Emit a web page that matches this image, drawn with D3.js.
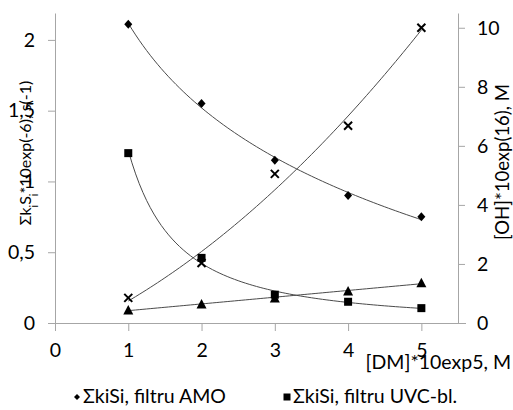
<!DOCTYPE html>
<meta charset="utf-8">
<script src="https://d3js.org/d3.v7.min.js"></script>
<style>
  body { margin: 0; background: #fff; }
  text { font-family: Lato, "Open Sans", sans-serif; fill: #000; }
</style>
<div id="vis"></div>
<script type="text/javascript">

// x values: [DM]*10exp5, M
var dm = [1, 2, 3, 4, 5];
// left axis: ΣkiSi*10exp(-6), s(-1)
var sumAMO = [2.11, 1.55, 1.15, 0.90, 0.75];
var sumUVC = [1.20, 0.46, 0.20, 0.15, 0.105];
// right axis: [OH]*10exp(16), M
var ohAMO = [0.85, 2.03, 5.05, 6.68, 10.0];
var ohUVC = [0.44, 0.64, 0.85, 1.08, 1.36];

var xTicks = [0, 1, 2, 3, 4, 5];
var leftTicks = [0, 0.5, 1, 1.5, 2];
var leftLabels = ["0", "0,5", "1", "1,5", "2"];
var rightTicks = [0, 2, 4, 6, 8, 10];

var width = 513, height = 410;
var plot = {left: 55, right: 458, top: 13, bottom: 323};

var svg = d3.select("#vis").append("svg")
    .attr("width", width)
    .attr("height", height);

var x = d3.scaleLinear().domain([0, 5.5]).range([plot.left, plot.right]);
var yL = d3.scaleLinear().domain([0, 2.19]).range([plot.bottom, plot.top]);
var yR = d3.scaleLinear().domain([0, 10.5]).range([plot.bottom, plot.top]);

var axisColor = "#a6a6a6";
var fs = "19.5px";

// axes
var gx = svg.append("g")
    .attr("transform", "translate(0," + plot.bottom + ")")
    .call(d3.axisBottom(x).tickValues(xTicks).tickFormat(d3.format("d"))
      .tickSize(8).tickPadding(12).tickSizeOuter(0));
gx.select(".domain").attr("d", "M" + (plot.left - 7) + ",0.5H" + (plot.right + 8));

var gl = svg.append("g")
    .attr("transform", "translate(" + plot.left + ",0)")
    .call(d3.axisLeft(yL).tickValues(leftTicks).tickFormat((d, i) => leftLabels[i])
      .tickSize(7).tickPadding(13).tickSizeOuter(0));

var gr = svg.append("g")
    .attr("transform", "translate(" + plot.right + ",0)")
    .call(d3.axisRight(yR).tickValues(rightTicks).tickSize(7).tickPadding(12).tickSizeOuter(0));

svg.selectAll(".domain").attr("stroke", axisColor);
svg.selectAll(".tick line").attr("stroke", axisColor);
svg.selectAll(".tick text").style("font-size", fs).attr("fill", "#000");

// trend line fits
function logFit(xs, ys) {
  var lx = xs.map(Math.log);
  var mx = d3.mean(lx), my = d3.mean(ys);
  var b = d3.sum(lx, (v, i) => (v - mx) * (ys[i] - my)) / d3.sum(lx, v => (v - mx) * (v - mx));
  var a = my - b * mx;
  return t => a + b * Math.log(t);
}
function powerFit(xs, ys) {
  var lx = xs.map(Math.log), ly = ys.map(Math.log);
  var mx = d3.mean(lx), my = d3.mean(ly);
  var b = d3.sum(lx, (v, i) => (v - mx) * (ly[i] - my)) / d3.sum(lx, v => (v - mx) * (v - mx));
  var a = Math.exp(my - b * mx);
  return t => a * Math.pow(t, b);
}
function linFit(xs, ys) {
  var mx = d3.mean(xs), my = d3.mean(ys);
  var b = d3.sum(xs, (v, i) => (v - mx) * (ys[i] - my)) / d3.sum(xs, v => (v - mx) * (v - mx));
  var a = my - b * mx;
  return t => a + b * t;
}
function quadFit(xs, ys) {
  // normal equations for y = c0 + c1 x + c2 x^2
  var s = [0, 0, 0, 0, 0], r = [0, 0, 0];
  xs.forEach((v, i) => {
    for (var k = 0; k < 5; k++) s[k] += Math.pow(v, k);
    for (var k = 0; k < 3; k++) r[k] += ys[i] * Math.pow(v, k);
  });
  var m = [[s[0], s[1], s[2], r[0]], [s[1], s[2], s[3], r[1]], [s[2], s[3], s[4], r[2]]];
  for (var c = 0; c < 3; c++) {
    for (var j = c + 1; j < 3; j++) {
      var f = m[j][c] / m[c][c];
      for (var k = c; k < 4; k++) m[j][k] -= f * m[c][k];
    }
  }
  var co = [0, 0, 0];
  for (var c = 2; c >= 0; c--) {
    var v = m[c][3];
    for (var k = c + 1; k < 3; k++) v -= m[c][k] * co[k];
    co[c] = v / m[c][c];
  }
  return t => co[0] + co[1] * t + co[2] * t * t;
}

var series = [
  {ys: sumAMO, y: yL, fit: logFit(dm, sumAMO), shape: "diamond"},
  {ys: sumUVC, y: yL, fit: powerFit(dm, sumUVC), shape: "square"},
  {ys: ohAMO, y: yR, fit: quadFit(dm, ohAMO), shape: "cross"},
  {ys: ohUVC, y: yR, fit: linFit(dm, ohUVC), shape: "triangle"}
];

var ts = d3.range(1, 5.0001, 0.05);
series.forEach(s => {
  svg.append("path")
    .datum(ts)
    .attr("fill", "none")
    .attr("stroke", "#4a4a4a")
    .attr("stroke-width", 1)
    .attr("d", d3.line().x(t => x(t)).y(t => s.y(s.fit(t))));
});

function marker(g, shape) {
  if (shape === "diamond") {
    g.append("path").attr("d", "M0,-4.5L4,0L0,4.5L-4,0Z").attr("fill", "#000");
  } else if (shape === "square") {
    g.append("rect").attr("x", -4).attr("y", -4).attr("width", 8).attr("height", 8).attr("fill", "#000");
  } else if (shape === "triangle") {
    g.append("path").attr("d", "M0,-5L5,4.5L-5,4.5Z").attr("fill", "#000");
  } else {
    g.append("path").attr("d", "M-4,-4L4,4M-4,4L4,-4").attr("stroke", "#000").attr("stroke-width", 2);
  }
}

series.forEach(s => {
  s.ys.forEach((v, i) => {
    var g = svg.append("g").attr("transform", "translate(" + x(dm[i]) + "," + s.y(v) + ")");
    marker(g, s.shape);
  });
});

// axis titles
var lt = svg.append("text")
    .attr("transform", "translate(31,153) rotate(-90)")
    .attr("text-anchor", "middle")
    .style("font-size", "16px");
lt.append("tspan").text("Σk");
lt.append("tspan").attr("baseline-shift", "sub").style("font-size", "11px").text("i");
lt.append("tspan").text("S");
lt.append("tspan").attr("baseline-shift", "sub").style("font-size", "11px").text("i");
lt.append("tspan").text("*10exp(-6), s(-1)");

svg.append("text")
    .attr("transform", "translate(509,162) rotate(-90)")
    .attr("text-anchor", "middle")
    .style("font-size", "18.5px")
    .text("[OH]*10exp(16), M");

svg.append("text")
    .attr("x", 511).attr("y", 369)
    .attr("text-anchor", "end")
    .style("font-size", fs)
    .text("[DM]*10exp5, M");

// legend
var legend = [
  {label: "ΣkiSi, filtru AMO", shape: "diamond", x: 77},
  {label: "ΣkiSi, filtru UVC-bl.", shape: "square", x: 287}
];
legend.forEach(l => {
  var g = svg.append("g").attr("transform", "translate(" + l.x + ",397)");
  if (l.shape === "diamond") {
    g.append("path").attr("d", "M0,-3L3,0L0,3L-3,0Z").attr("fill", "#000");
  } else {
    g.append("rect").attr("x", -3.5).attr("y", -3.5).attr("width", 7).attr("height", 7).attr("fill", "#000");
  }
  svg.append("text")
    .attr("x", l.x + 6).attr("y", 403)
    .style("font-size", fs)
    .text(l.label);
});

</script>
